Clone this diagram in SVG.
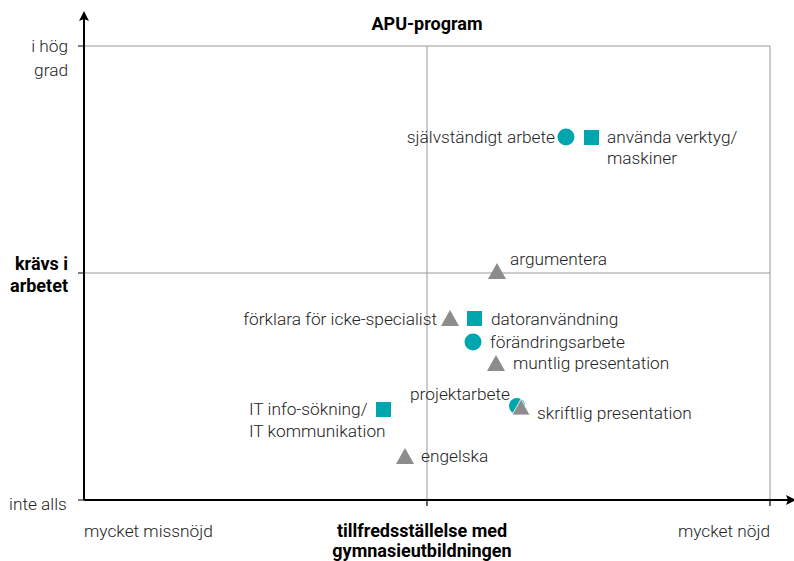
<svg xmlns="http://www.w3.org/2000/svg" width="794" height="561" viewBox="0 0 794 561">
<style>
text{font-family:Roboto,"Liberation Sans",sans-serif;font-size:17.3px;fill:#222;font-weight:300}
.b{font-weight:bold;fill:#000;font-size:18px}
.grid{stroke:#999;stroke-width:1;fill:none}
.axis{stroke:#000;stroke-width:2;fill:none}
.tick{stroke:#000;stroke-width:1.2}
.t{fill:#00A6AD}
.g{fill:#8C8C8C}
.e{text-anchor:end}
.m{text-anchor:middle}
</style>
<defs>
<marker id="ah" markerWidth="10" markerHeight="10" refX="8" refY="5" orient="auto" markerUnits="userSpaceOnUse">
<path d="M0,0 L10,5 L0,10 L2,5 Z" fill="#000"/>
</marker>
</defs>
<rect width="794" height="561" fill="#fff"/>
<g id="connectors">
<path class="grid" d="M84,46 H770 V500 M427,46 V500 M84,273 H770"/>
<line class="axis" x1="84" y1="500" x2="84" y2="13" marker-end="url(#ah)"/>
<line class="axis" x1="84" y1="500" x2="794" y2="500" marker-end="url(#ah)"/>
<path class="tick" d="M78,46 H84 M78,273 H84 M78,500 H84 M427,500 V506 M770,500 V506"/>
</g>
<g id="labels">
<text x="427" y="30" class="b m">APU-program</text>
<text x="68" y="52" class="e">i hög</text>
<text x="68" y="76" class="e">grad</text>
<text x="68" y="270" class="b e">krävs i</text>
<text x="68" y="292" class="b e">arbetet</text>
<text x="9" y="510">inte alls</text>
<text x="84" y="537">mycket missnöjd</text>
<text x="770" y="537" class="e">mycket nöjd</text>
<text x="422" y="537" class="b m">tillfredsställelse med</text>
<text x="422" y="557" class="b m">gymnasieutbildningen</text>
</g>
<g id="sjalvstandigt">
<circle class="t" cx="566" cy="137" r="8.5"/>
<text x="555" y="143" class="e">självständigt arbete</text>
</g>
<g id="anvanda">
<rect class="t" x="584" y="130" width="15" height="15"/>
<text x="607" y="143">använda verktyg/</text>
<text x="607" y="164">maskiner</text>
</g>
<g id="argumentera">
<polygon class="g" points="497,263 506,279 488,279"/>
<text x="510" y="265">argumentera</text>
</g>
<g id="forklara">
<polygon class="g" points="450,310 459,326 441,326"/>
<text x="437" y="325" class="e">förklara för icke-specialist</text>
</g>
<g id="datoranvandning">
<rect class="t" x="467" y="311" width="15" height="15"/>
<text x="491" y="325">datoranvändning</text>
</g>
<g id="forandringsarbete">
<circle class="t" cx="473" cy="342" r="8.5"/>
<text x="490" y="348">förändringsarbete</text>
</g>
<g id="muntlig">
<polygon class="g" points="496,355 505,371 487,371"/>
<text x="513" y="369">muntlig presentation</text>
</g>
<g id="projektarbete">
<circle class="t" cx="517" cy="406" r="8"/>
<text x="410" y="400">projektarbete</text>
</g>
<g id="skriftlig">
<polygon class="g" points="521,399 530,415 512,415" stroke="#fff" stroke-width="0.8"/>
<text x="537" y="419">skriftlig presentation</text>
</g>
<g id="itinfo">
<rect class="t" x="376" y="402" width="15" height="15"/>
<text x="249" y="415">IT info-sökning/</text>
<text x="249" y="437">IT kommunikation</text>
</g>
<g id="engelska">
<polygon class="g" points="405,448 414,464 396,464"/>
<text x="421" y="462">engelska</text>
</g>
</svg>
